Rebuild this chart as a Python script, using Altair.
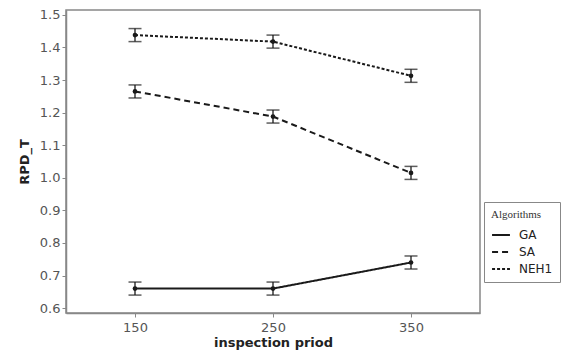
import altair as alt
import pandas as pd

periods = [150, 250, 350]
algorithms = ["GA", "SA", "NEH1"]
ga = [0.66, 0.66, 0.74]
sa = [1.265, 1.188, 1.015]
neh1 = [1.438, 1.418, 1.313]
ga_err = [0.02, 0.02, 0.02]
sa_err = [0.02, 0.02, 0.02]
neh1_err = [0.02, 0.02, 0.02]
y_ticks = [0.6, 0.7, 0.8, 0.9, 1.0, 1.1, 1.2, 1.3, 1.4, 1.5]

rows = []
for alg, vals, errs in [("GA", ga, ga_err), ("SA", sa, sa_err), ("NEH1", neh1, neh1_err)]:
    for p, v, e in zip(periods, vals, errs):
        rows.append({"period": p, "Algorithm": alg, "value": v, "lo": v - e, "hi": v + e})
df = pd.DataFrame(rows)

ink = "#1a1a1a"
x = alt.X("period:Q", scale=alt.Scale(domain=[100, 400], nice=False, zero=False),
          axis=alt.Axis(values=periods, title="inspection priod", grid=False))
y_axis = alt.Axis(values=y_ticks, format=".1f", title="RPD_T", grid=False,
                  labelOverlap=False, tickCount=10)
yscale = alt.Scale(domain=[0.585, 1.515], nice=False, zero=False)


def Y(field):
    return alt.Y(field, scale=yscale, axis=y_axis, title="RPD_T")


base = alt.Chart(df)
nbsp = "\u00a0" * 14

lines = base.mark_line(color=ink, strokeWidth=2).encode(
    x=x,
    y=Y("value:Q"),
    strokeDash=alt.StrokeDash(
        "Algorithm:N",
        scale=alt.Scale(domain=algorithms, range=[[1, 0], [6, 4], [3, 2]]),
        legend=alt.Legend(
            title="Algorithms", orient="none", legendX=418, legendY=192,
            symbolType="stroke", symbolStrokeColor=ink, symbolStrokeWidth=2,
            symbolSize=320, fillColor="white", strokeColor="#888888",
            padding=7, titleFont="Liberation Serif", titleFontWeight="normal",
            titleFontSize=11, titleColor="#333333", titlePadding=5,
            labelFont="DejaVu Sans", labelFontSize=12, labelColor="#222222",
            rowPadding=1, labelOffset=8, labelLimit=300,
            labelExpr="datum.label + '" + nbsp + "'",
        ),
    ),
    detail="Algorithm:N",
)

points = base.mark_point(filled=True, color=ink, size=22, opacity=1).encode(
    x=x, y=Y("value:Q")
)

rules = base.mark_rule(color=ink, strokeWidth=1.3).encode(
    x=x, y=Y("lo:Q"), y2="hi:Q"
)
cap_lo = base.mark_tick(color=ink, orient="horizontal", size=13, thickness=1.5).encode(
    x=x, y=Y("lo:Q")
)
cap_hi = base.mark_tick(color=ink, orient="horizontal", size=13, thickness=1.5).encode(
    x=x, y=Y("hi:Q")
)

chart = alt.layer(lines, rules, cap_lo, cap_hi, points).properties(
    width=414, height=303,
    autosize=alt.AutoSizeParams(type="none"),
    padding={"left": 66, "top": 10, "right": 107, "bottom": 42},
).configure_view(
    stroke="#888888", strokeWidth=1.5
).configure_axis(
    labelFont="DejaVu Sans", labelFontSize=13, labelColor="#555555",
    titleFont="DejaVu Sans", titleFontSize=13, titleFontWeight="bold", titleColor="#222222",
    domainColor="#888888", tickColor="#888888", tickSize=4, domainWidth=1.5,
    labelOverlap=False,
).configure_axisX(
    labelPadding=4, titlePadding=2
).configure_axisY(
    titlePadding=8
)

chart.save("out.html", embed_options={"renderer": "svg", "actions": False})
